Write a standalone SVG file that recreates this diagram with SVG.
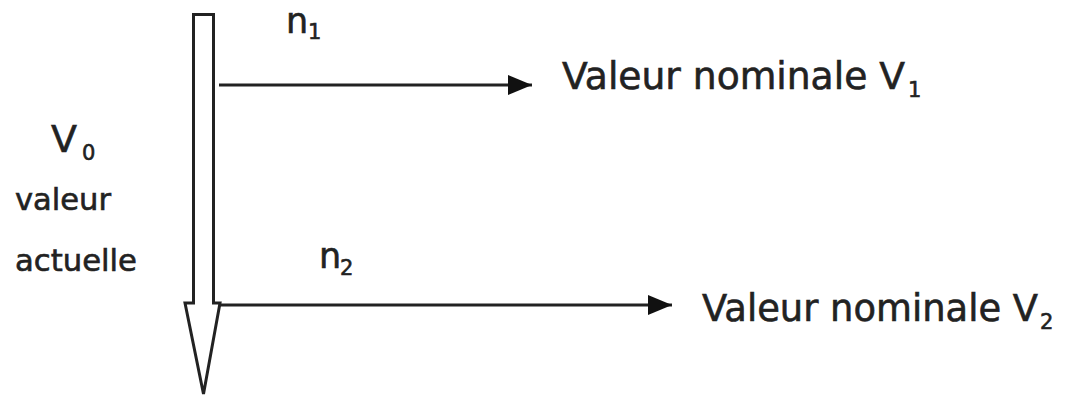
<svg xmlns="http://www.w3.org/2000/svg" width="1066" height="398" viewBox="0 0 1066 398">
  <style>
    text { font-family: "DejaVu Sans", "Liberation Sans", sans-serif; fill: #222; stroke: #222; stroke-width: 0.6; }
    .big { font-size: 37px; }
    .sym { font-size: 35px; }
    .small { font-size: 30px; }
    .sub { font-size: 21px; }
    .link { stroke: #222; stroke-width: 3; fill: none; }
  </style>
  <defs>
    <marker id="head" markerUnits="userSpaceOnUse" markerWidth="26" markerHeight="20" refX="24" refY="10" orient="auto">
      <path d="M0,0 L24,10 L0,20 Z" fill="#111"/>
    </marker>
  </defs>
  <rect width="1066" height="398" fill="#fff"/>

  <!-- hollow downward arrow: the current value -->
  <g id="axis">
    <path d="M193.5,14.5 H213.5 V303 H220 L203.5,394 L185,303 H193.5 Z" fill="#fff" stroke="#222" stroke-width="3" stroke-linejoin="miter"/>
  </g>

  <g id="current">
    <text x="51" y="152" font-size="38">V</text>
    <text class="sub" x="82" y="160">0</text>
    <text class="small" x="15" y="210" textLength="96" lengthAdjust="spacingAndGlyphs">valeur</text>
    <text class="small" x="15" y="271" textLength="122" lengthAdjust="spacingAndGlyphs">actuelle</text>
  </g>

  <!-- connectors -->
  <g id="connectors">
    <line class="link" x1="219" y1="85" x2="532" y2="85" marker-end="url(#head)"/>
    <line class="link" x1="220" y1="305" x2="672" y2="305" marker-end="url(#head)"/>
  </g>

  <g id="n1">
    <text class="sym" x="286" y="33">n</text>
    <text class="sub" x="308" y="39">1</text>
  </g>
  <g id="n2">
    <text class="sym" x="319" y="268">n</text>
    <text class="sub" x="340" y="275">2</text>
  </g>

  <g id="nominal1">
    <text class="big" x="562" y="89" textLength="343" lengthAdjust="spacingAndGlyphs">Valeur nominale V</text>
    <text class="sub" x="908" y="97">1</text>
  </g>
  <g id="nominal2">
    <text class="big" x="702" y="321" textLength="336" lengthAdjust="spacingAndGlyphs">Valeur nominale V</text>
    <text class="sub" x="1040" y="329">2</text>
  </g>
</svg>
